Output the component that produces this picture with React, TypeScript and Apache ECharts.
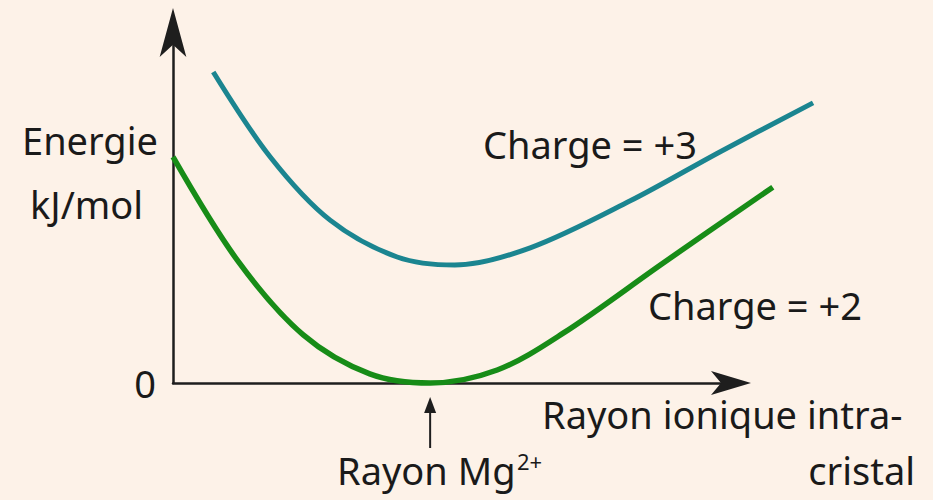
import React, { useEffect, useRef } from "react";
import * as echarts from "echarts";

// Rayon ionique (unités arbitraires : 0–100 = longueur de l'axe) et énergie (unités arbitraires)
const charge2X = [0, 11.5, 23.3, 35.2, 46.0, 58.0, 69.8, 87.7, 107.3];
const charge2Y = [64.4, 35.0, 13.7, 2.6, 0, 3.7, 14.2, 34.2, 55.8];

const charge3X = [7.2, 17.4, 28.1, 40.1, 50.4, 63.9, 81.8, 97.9, 114.5];
const charge3Y = [88.6, 64.4, 46.4, 35.9, 33.6, 38.5, 51.9, 65.9, 79.8];

const mgRadiusX = 46.0; // rayon de Mg2+ (minimum de la courbe +2)
const yTickLabels = ["0"];

const FONT = "'Noto Sans', 'Open Sans', sans-serif";
const TXT = "#1a1a1a";
const AXIS = "#1e1e1e";

export default function App() {
  const ref = useRef<HTMLDivElement>(null);

  useEffect(() => {
    if (!ref.current) return;
    const chart = echarts.init(ref.current, undefined, { renderer: "svg" });
    const zip = (xs: number[], ys: number[]) => xs.map((x, i) => [x, ys[i]]);

    const unitPx = (933 - 173 - 201) / 100; // px per x unit on the visible axis
    const xMaxData = 120;
    const rightData = 933 - 173 - xMaxData * unitPx;

    chart.setOption({
      animation: false,
      backgroundColor: "#fdf2e8",
      grid: [
        { left: 173, right: 201, top: 32, bottom: 117 },
        { left: 173, right: rightData, top: 32, bottom: 117 },
      ],
      xAxis: [
        {
          gridIndex: 0,
          type: "value",
          min: 0,
          max: 100,
          axisLine: {
            lineStyle: { color: AXIS, width: 2.5 },
            symbol: ["none", "arrow"],
            symbolSize: [18, 40],
            symbolOffset: [0, 19],
          },
          axisTick: { show: false },
          axisLabel: { show: false },
          splitLine: { show: false },
        },
        {
          gridIndex: 1,
          type: "value",
          min: 0,
          max: xMaxData,
          show: false,
          splitLine: { show: false },
        },
      ],
      yAxis: [
        {
          gridIndex: 0,
          type: "value",
          min: 0,
          max: 100,
          interval: 100,
          axisLine: {
            show: true,
            lineStyle: { color: AXIS, width: 2.5 },
            symbol: ["none", "arrow"],
            symbolSize: [20, 49],
            symbolOffset: [0, 24],
          },
          axisTick: { show: false },
          splitLine: { show: false },
          axisLabel: {
            margin: 17,
            fontSize: 38,
            fontFamily: FONT,
            color: TXT,
            formatter: (v: number) => (v === 0 ? yTickLabels[0] : ""),
          },
        },
        {
          gridIndex: 1,
          type: "value",
          min: 0,
          max: 100,
          show: false,
          splitLine: { show: false },
        },
      ],
      series: [
        {
          name: "Charge = +3",
          type: "line",
          xAxisIndex: 1,
          yAxisIndex: 1,
          smooth: 0.33,
          showSymbol: false,
          clip: false,
          lineStyle: { color: "#1b8590", width: 5 },
          data: zip(charge3X, charge3Y),
        },
        {
          name: "Charge = +2",
          type: "line",
          xAxisIndex: 1,
          yAxisIndex: 1,
          smooth: 0.33,
          showSymbol: false,
          clip: false,
          lineStyle: { color: "#178c17", width: 5.5 },
          data: zip(charge2X, charge2Y),
        },
      ],
    });

    const [mgPx] = chart.convertToPixel({ gridIndex: 0 }, [mgRadiusX, 0]) as number[];
    const txt = (text: string, x: number, y: number, align = "left", size = 38) => ({
      type: "text",
      x,
      y,
      style: {
        text,
        fontSize: size,
        fontFamily: FONT,
        fill: TXT,
        align,
        verticalAlign: "middle",
      },
    });

    chart.setOption({
      graphic: [
        txt("Energie", 22, 140),
        txt("kJ/mol", 30, 204),
        txt("Charge = +3", 483, 144),
        txt("Charge = +2", 648, 305),
        txt("Rayon ionique intra-", 542, 414),
        txt("cristal", 915, 470, "right"),
        txt("Rayon Mg", 337, 470),
        txt("2+", 517, 461, "left", 22),
        {
          type: "line",
          shape: { x1: mgPx, y1: 448, x2: mgPx, y2: 408 },
          style: { stroke: AXIS, lineWidth: 2 },
        },
        {
          type: "polygon",
          shape: { points: [[mgPx, 397], [mgPx - 6, 413], [mgPx + 6, 413]] },
          style: { fill: AXIS },
        },
      ],
    });

    return () => chart.dispose();
  }, []);

  return (
    <div
      ref={ref}
      style={{ position: "absolute", left: 0, top: 0, width: 933, height: 500 }}
    />
  );
}
